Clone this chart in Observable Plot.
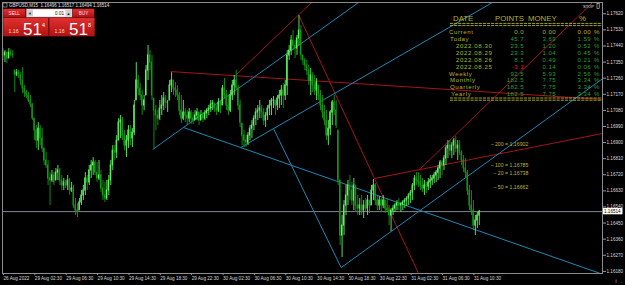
<!DOCTYPE html>
<html><head><meta charset="utf-8">
<script src="https://cdn.jsdelivr.net/npm/d3@7"></script>
<script src="https://cdn.jsdelivr.net/npm/@observablehq/plot@0.6"></script>
<style>
html,body{margin:0;padding:0;background:#000;}
#chart{position:relative;width:625px;height:285px;overflow:hidden;background:#000;}
svg text{font-family:"Liberation Sans",Arial,sans-serif;}
</style></head><body><div id="chart"></div>
<script>
// ---- GBPUSD M15 bars (26 Aug 2022 22:30 -> 31 Aug 2022) ----
const firstOpen = 1.17414;
const highs = [
1.17426,1.17414,1.17403,1.17426,1.17420,1.17414,1.17303,1.17308,1.17303,1.17291,
1.17319,1.17219,1.17191,1.17180,1.17163,1.17118,1.17034,1.16995,1.17012,1.16995,
1.16978,1.16867,1.16844,1.16800,1.16732,1.16744,1.16732,1.16755,1.16772,1.16755,
1.16716,1.16699,1.16688,1.16716,1.16699,1.16677,1.16660,1.16587,1.16559,1.16587,
1.16632,1.16660,1.16732,1.16716,1.16772,1.16800,1.16816,1.16800,1.16788,1.16800,
1.16744,1.16688,1.16677,1.16688,1.16716,1.16800,1.16883,1.16883,1.16939,1.17034,
1.17051,1.17040,1.16967,1.16939,1.16995,1.16995,1.16978,1.17135,1.17347,1.17275,
1.17230,1.17191,1.17163,1.17331,1.17442,1.17414,1.17387,1.17146,1.17107,1.17079,
1.17135,1.17163,1.17180,1.17163,1.17135,1.17247,1.17291,1.17247,1.17236,1.17219,
1.17180,1.17163,1.17135,1.17090,1.17079,1.17090,1.17079,1.17068,1.17079,1.17090,
1.17068,1.17079,1.17068,1.17079,1.17090,1.17107,1.17135,1.17135,1.17118,1.17107,
1.17146,1.17135,1.17219,1.17258,1.17191,1.17163,1.17191,1.17247,1.17275,1.17303,
1.17219,1.17135,1.17006,1.16967,1.16939,1.16956,1.16995,1.17023,1.17051,1.17090,
1.17107,1.17135,1.17107,1.17090,1.17068,1.17107,1.17135,1.17146,1.17157,1.17135,
1.17163,1.17191,1.17219,1.17230,1.17247,1.17414,1.17442,1.17498,1.17526,1.17470,
1.17498,1.17610,1.17554,1.17387,1.17370,1.17359,1.17331,1.17314,1.17291,1.17275,
1.17258,1.17219,1.17191,1.17163,1.17107,1.17079,1.17023,1.17079,1.17135,1.17163,
1.17135,1.16967,1.16688,1.16492,1.16576,1.16660,1.16688,1.16716,1.16677,1.16699,
1.16660,1.16604,1.16587,1.16604,1.16576,1.16587,1.16604,1.16576,1.16660,1.16693,
1.16671,1.16604,1.16598,1.16587,1.16604,1.16576,1.16587,1.16548,1.16531,1.16548,
1.16559,1.16576,1.16587,1.16565,1.16576,1.16587,1.16598,1.16615,1.16632,1.16671,
1.16716,1.16732,1.16732,1.16716,1.16699,1.16688,1.16677,1.16699,1.16716,1.16716,
1.16732,1.16744,1.16772,1.16800,1.16800,1.16828,1.16883,1.16911,1.16911,1.16900,
1.16923,1.16934,1.16911,1.16911,1.16855,1.16828,1.16811,1.16744,1.16660,1.16632,
1.16576,1.16492,1.16509,1.16520];
const lows = [
1.17359,1.17347,1.17342,1.17370,1.17381,1.17370,1.17180,1.17269,1.17258,1.17219,
1.17174,1.17152,1.17146,1.17124,1.17096,1.17023,1.16911,1.16867,1.16855,1.16883,
1.16844,1.16772,1.16755,1.16660,1.16548,1.16677,1.16660,1.16688,1.16688,1.16660,
1.16632,1.16632,1.16643,1.16632,1.16604,1.16621,1.16531,1.16492,1.16481,1.16520,
1.16548,1.16576,1.16604,1.16632,1.16660,1.16699,1.16716,1.16716,1.16677,1.16688,
1.16621,1.16576,1.16565,1.16576,1.16604,1.16660,1.16744,1.16800,1.16811,1.16911,
1.16923,1.16911,1.16855,1.16816,1.16867,1.16883,1.16872,1.16939,1.17135,1.17163,
1.17135,1.17051,1.17079,1.17163,1.17247,1.17303,1.17135,1.16867,1.16967,1.16995,
1.17023,1.17051,1.17079,1.17090,1.17068,1.17135,1.17180,1.17163,1.17152,1.17135,
1.17051,1.17006,1.17023,1.17012,1.16995,1.17012,1.17001,1.17001,1.17023,1.17023,
1.16995,1.17023,1.17012,1.17023,1.17034,1.17051,1.17068,1.17079,1.17068,1.17051,
1.17068,1.17062,1.17107,1.17146,1.17079,1.17051,1.17068,1.17135,1.17163,1.17191,
1.17079,1.16984,1.16883,1.16872,1.16872,1.16883,1.16911,1.16923,1.16967,1.16995,
1.17023,1.17034,1.17034,1.16995,1.16984,1.17023,1.17051,1.17051,1.17090,1.17051,
1.17079,1.17090,1.17107,1.17090,1.17135,1.17163,1.17359,1.17387,1.17414,1.17370,
1.17387,1.17442,1.17359,1.17331,1.17303,1.17275,1.17219,1.17163,1.17180,1.17163,
1.17135,1.17135,1.17079,1.17034,1.16995,1.16911,1.16883,1.16939,1.16995,1.17051,
1.16978,1.16660,1.16324,1.16257,1.16380,1.16492,1.16548,1.16576,1.16548,1.16520,
1.16509,1.16492,1.16492,1.16492,1.16475,1.16509,1.16492,1.16503,1.16548,1.16576,
1.16548,1.16520,1.16520,1.16509,1.16531,1.16503,1.16509,1.16436,1.16403,1.16492,
1.16509,1.16520,1.16520,1.16509,1.16520,1.16531,1.16542,1.16548,1.16559,1.16576,
1.16632,1.16660,1.16649,1.16632,1.16621,1.16604,1.16615,1.16632,1.16643,1.16660,
1.16671,1.16677,1.16688,1.16699,1.16716,1.16744,1.16772,1.16811,1.16828,1.16811,
1.16828,1.16844,1.16800,1.16828,1.16772,1.16732,1.16699,1.16604,1.16520,1.16492,
1.16408,1.16380,1.16419,1.16436];
const closes = [
1.17387,1.17403,1.17370,1.17403,1.17392,1.17387,1.17280,1.17291,1.17275,1.17247,
1.17202,1.17180,1.17163,1.17135,1.17113,1.17034,1.16967,1.16911,1.16978,1.16923,
1.16867,1.16800,1.16772,1.16699,1.16688,1.16716,1.16677,1.16732,1.16744,1.16688,
1.16660,1.16677,1.16660,1.16688,1.16632,1.16643,1.16548,1.16520,1.16509,1.16565,
1.16604,1.16632,1.16699,1.16677,1.16744,1.16772,1.16788,1.16732,1.16699,1.16716,
1.16643,1.16604,1.16587,1.16632,1.16688,1.16772,1.16855,1.16844,1.16911,1.17012,
1.17023,1.16939,1.16883,1.16911,1.16967,1.16923,1.16956,1.17107,1.17247,1.17202,
1.17163,1.17107,1.17135,1.17303,1.17387,1.17347,1.17163,1.17079,1.17051,1.17034,
1.17090,1.17107,1.17146,1.17124,1.17124,1.17219,1.17247,1.17202,1.17191,1.17163,
1.17079,1.17034,1.17068,1.17051,1.17034,1.17068,1.17034,1.17023,1.17051,1.17068,
1.17023,1.17051,1.17034,1.17062,1.17079,1.17090,1.17113,1.17118,1.17090,1.17079,
1.17124,1.17107,1.17202,1.17163,1.17107,1.17079,1.17163,1.17219,1.17247,1.17202,
1.17107,1.17012,1.16939,1.16911,1.16900,1.16939,1.16978,1.16995,1.17034,1.17068,
1.17079,1.17090,1.17068,1.17023,1.17051,1.17090,1.17107,1.17135,1.17135,1.17107,
1.17146,1.17163,1.17191,1.17163,1.17219,1.17387,1.17414,1.17470,1.17442,1.17426,
1.17482,1.17526,1.17387,1.17359,1.17331,1.17303,1.17247,1.17275,1.17219,1.17191,
1.17236,1.17163,1.17107,1.17068,1.17023,1.16939,1.16978,1.17068,1.17124,1.17079,
1.16995,1.16688,1.16380,1.16436,1.16548,1.16604,1.16660,1.16632,1.16576,1.16660,
1.16548,1.16531,1.16548,1.16520,1.16548,1.16531,1.16576,1.16548,1.16632,1.16660,
1.16576,1.16548,1.16576,1.16548,1.16576,1.16531,1.16520,1.16492,1.16520,1.16531,
1.16548,1.16559,1.16548,1.16554,1.16565,1.16576,1.16587,1.16604,1.16621,1.16660,
1.16699,1.16688,1.16677,1.16660,1.16643,1.16660,1.16654,1.16677,1.16688,1.16699,
1.16716,1.16732,1.16755,1.16788,1.16772,1.16811,1.16867,1.16883,1.16855,1.16883,
1.16911,1.16867,1.16883,1.16844,1.16800,1.16755,1.16732,1.16632,1.16548,1.16520,
1.16436,1.16464,1.16492,1.16514];

// time axis labels (one every 16 bars of 15 minutes)
const timeLabels = ["26 Aug 2022","29 Aug 02:30","29 Aug 06:30","29 Aug 10:30","29 Aug 14:30","29 Aug 18:30",
  "29 Aug 22:30","30 Aug 02:30","30 Aug 06:30","30 Aug 10:30","30 Aug 14:30","30 Aug 18:30",
  "30 Aug 22:30","31 Aug 02:30","31 Aug 06:30","31 Aug 10:30"];
const barsPerLabel = 16;
// price axis ticks
const priceTicks = [1.16180,1.16270,1.16360,1.16450,1.16540,1.16630,1.16720,1.16810,1.16900,
  1.16990,1.17080,1.17170,1.17260,1.17350,1.17440,1.17530,1.17620];

// trend lines [barIndex1, price1, barIndex2, price2]
const redLines = [
  [85.5,1.17297,306,1.17141],
  [118.6,1.17275,157.4,1.17683],
  [151,1.17610,212,1.16168],
  [189.5,1.16699,306,1.16951],
  [212,1.16744,300.8,1.17683]];
const blueLines = [
  [76.3,1.16861,181.4,1.17683],
  [92.1,1.16984,304.8,1.16168],
  [121.2,1.16872,249.7,1.17683],
  [138,1.16978,172.5,1.16201],
  [172.5,1.16201,306,1.17258]];

// moving-average labels
const maPeriods = [200,100,20,50];
const maValues = [1.16902,1.16785,1.16738,1.16662];

// statistics table
const tableHeader = ["DATE","POINTS","MONEY","%"];
const rowNames = ["Current","Today","2022.08.30","2022.08.29","2022.08.26","2022.08.25","Weekly","Monthly","Quarterly","Yearly"];
const rowPoints = [0.0,45.7,23.5,23.3,8.1,-3.1,92.5,182.5,182.5,182.5];
const rowMoney = [0.00,3.69,1.20,1.04,0.49,0.14,5.93,7.75,7.75,7.75];
const rowPct = [0.00,1.59,0.52,0.45,0.21,0.06,2.56,3.34,3.34,3.34];

const symbol = "GBPUSD,M15";
const ohlcNow = [1.16496,1.16517,1.16494,1.16514];
const bid = 1.16514, ask = 1.16518, lot = "0.01";

// ---- build ----
const bars = closes.map((c,i)=>{
  const prev = i===0 ? firstOpen : closes[i-1];
  const o = Math.min(highs[i], Math.max(lows[i], prev));
  return {i, open:o, high:highs[i], low:lows[i], close:c, up: c>=o};
});
const last = bars.length-1;
const tickIdx = timeLabels.map((_,k)=>k*barsPerLabel);
const labelOf = new Map(tickIdx.map((t,k)=>[t,timeLabels[k]]));

const BULL = "#62f262", BEAR = "#139a13";
const plot = Plot.plot({
  width:625, height:285,
  marginLeft:2, marginRight:23, marginTop:2, marginBottom:12,
  style:{background:"#000", color:"#d0d0d0", fontSize:"4.6px", fontFamily:"Liberation Sans, Arial, sans-serif", overflow:"visible"},
  x:{type:"linear", domain:[-0.26,305.86]},
  y:{domain:[1.16168,1.17683]},
  marks:[
    Plot.ruleY([bid], {stroke:"#7c8691", strokeWidth:1}),
    Plot.link(redLines, {x1:d=>d[0], y1:d=>d[1], x2:d=>d[2], y2:d=>d[3], stroke:"#a3161a", strokeWidth:1, clip:true}),
    Plot.link(blueLines, {x1:d=>d[0], y1:d=>d[1], x2:d=>d[2], y2:d=>d[3], stroke:"#1e88b6", strokeWidth:1, clip:true}),
    Plot.ruleX(bars, {x:"i", y1:"low", y2:"high", stroke:d=>d.up?BULL:BEAR, strokeWidth:0.9}),
    Plot.rect(bars, {x1:d=>d.i-0.32, x2:d=>d.i+0.32, y1:d=>Math.min(d.open,d.close), y2:d=>Math.max(d.open,d.close),
      fill:d=>d.up?BULL:BEAR, insetTop:-0.5, insetBottom:-0.5}),
    Plot.text(maPeriods, {x:()=>last+25, y:(d,k)=>maValues[k], text:(d,k)=>`\u2013 ${d} = ${maValues[k].toFixed(5)}`,
      textAnchor:"end", lineAnchor:"top", fill:"#c4b23c", fontSize:5.2}),
    Plot.frame({stroke:"#8c8c8c"}),
    Plot.axisY(priceTicks, {anchor:"right", tickSize:3, tickPadding:1, tickFormat:d=>d.toFixed(5), stroke:"#9a9a9a", fill:"#d8d8d8", textAnchor:"start", fontSize:4.6}),
    Plot.axisX(tickIdx, {anchor:"bottom", tickSize:2, tickPadding:1.5, tickFormat:d=>labelOf.get(d), stroke:"#9a9a9a", fill:"#d8d8d8", textAnchor:"start", dx:0.5, fontSize:4.6})
  ]
});
document.getElementById("chart").appendChild(plot);

const svg = d3.select(plot);
const ys = plot.scale("y");
const F = "Liberation Sans, Arial, sans-serif";
const root = svg.append("g").attr("text-anchor","start").attr("font-family",F);

// current price label
const yb = ys.apply(bid);
root.append("rect").attr("x",603).attr("y",yb-3.2).attr("width",19.5).attr("height",6.4).attr("fill","#fff");
root.append("text").attr("x",604).attr("y",yb).attr("dy","0.35em").attr("font-size",4.6).attr("fill","#000").text(bid.toFixed(5));

// title
root.append("rect").attr("x",3).attr("y",3).attr("width",4).attr("height",4).attr("fill","none").attr("stroke","#bbb").attr("stroke-width",0.6);
root.append("text").attr("x",9).attr("y",5.5).attr("dy","0.35em").attr("font-size",4.5).attr("fill","#e0e0e0")
  .text(symbol+"\u00a0\u00a0"+ohlcNow.map(v=>v.toFixed(5)).join(" "));

// one-click panel
const g = root.append("g");
const defs = svg.append("defs");
const grad = defs.append("linearGradient").attr("id","rg").attr("x1",0).attr("x2",0).attr("y1",0).attr("y2",1);
grad.append("stop").attr("offset","0%").attr("stop-color","#e03030");
grad.append("stop").attr("offset","100%").attr("stop-color","#b21212");
g.append("rect").attr("x",3).attr("y",8.5).attr("width",91.5).attr("height",28).attr("fill","#7a0d0d");
g.append("rect").attr("x",3.5).attr("y",9).attr("width",21.5).attr("height",8).attr("fill","url(#rg)");
g.append("rect").attr("x",73).attr("y",9).attr("width",21).attr("height",8).attr("fill","url(#rg)");
g.append("rect").attr("x",26.5).attr("y",9).attr("width",45.5).attr("height",8).attr("fill","#fff").attr("stroke","#999").attr("stroke-width",0.5);
g.append("rect").attr("x",27).attr("y",9.5).attr("width",6).attr("height",7).attr("fill","#cfcfcf");
g.append("rect").attr("x",65.5).attr("y",9.5).attr("width",6).attr("height",7).attr("fill","#cfcfcf");
g.append("text").attr("x",30).attr("y",13.2).attr("dy","0.35em").attr("text-anchor","middle").attr("font-size",4).attr("fill","#222").text("\u25BC");
g.append("text").attr("x",68.5).attr("y",13.2).attr("dy","0.35em").attr("text-anchor","middle").attr("font-size",4).attr("fill","#222").text("\u25B2");
g.append("text").attr("x",64).attr("y",13.2).attr("dy","0.35em").attr("text-anchor","end").attr("font-size",4.6).attr("fill","#111").text(lot);
g.append("text").attr("x",14.2).attr("y",13.2).attr("dy","0.35em").attr("text-anchor","middle").attr("font-size",4.6).attr("fill","#fde").text("SELL");
g.append("text").attr("x",83.5).attr("y",13.2).attr("dy","0.35em").attr("text-anchor","middle").attr("font-size",4.6).attr("fill","#fde").text("BUY");
function priceBox(x0, w, price){
  const s = price.toFixed(5);
  g.append("rect").attr("x",x0).attr("y",18).attr("width",w).attr("height",18).attr("fill","url(#rg)");
  g.append("text").attr("x",x0+5).attr("y",33).attr("font-size",5.2).attr("fill","#f6dede").text(s.slice(0,4));
  g.append("text").attr("x",x0+19.5).attr("y",35).attr("font-size",17).attr("fill","#fff").text(s.slice(4,6));
  g.append("text").attr("x",x0+38.5).attr("y",27).attr("font-size",5.5).attr("fill","#fff").text(s.slice(6));
}
priceBox(3.5,44.5,bid);
priceBox(49.5,45,ask);

// stop label
root.append("text").attr("x",583).attr("y",6.5).attr("dy","0.35em").attr("font-size",4).attr("fill","#e8e8e8").text("STOP");
root.append("rect").attr("x",597).attr("y",3.5).attr("width",2.2).attr("height",5).attr("fill","none").attr("stroke","#ddd").attr("stroke-width",0.6);

// statistics table
const OL = "#b4b42c", GR = "#2e9e2e", RD = "#ee1c1c";
const t = root.append("g").attr("font-size",6.1);
const hx = [453,495,528,579];
tableHeader.forEach((h,k)=>t.append("text").attr("x",hx[k]).attr("y",17.8).attr("dy","0.35em").attr("font-size",7.8).attr("fill",OL).text(h));
function dbl(y){
  [y, y+2.2].forEach(yy=>t.append("line").attr("x1",450).attr("x2",602).attr("y1",yy).attr("y2",yy)
    .attr("stroke",OL).attr("stroke-width",0.9).attr("stroke-dasharray","3.2,0.9"));
}
dbl(23.4); dbl(98);
const indent = [449,450,456,456,456,456,449,450,450,451];
rowNames.forEach((n,k)=>{
  const y = 32 + k*6.9;
  const vc = k===0 ? OL : GR;
  t.append("text").attr("x",indent[k]).attr("y",y).attr("dy","0.35em").attr("letter-spacing",0.6).attr("fill",OL).text(n);
  t.append("text").attr("x",524).attr("y",y).attr("dy","0.35em").attr("text-anchor","end").attr("letter-spacing",0.4).attr("fill",rowPoints[k]<0?RD:vc).text(rowPoints[k].toFixed(1));
  t.append("text").attr("x",556).attr("y",y).attr("dy","0.35em").attr("text-anchor","end").attr("letter-spacing",0.4).attr("fill",vc).text(rowMoney[k].toFixed(2));
  t.append("text").attr("x",591).attr("y",y).attr("dy","0.35em").attr("text-anchor","end").attr("letter-spacing",0.4).attr("fill",vc).text(rowPct[k].toFixed(2));
  t.append("text").attr("x",594).attr("y",y).attr("dy","0.35em").attr("fill",vc).text("%");
});
</script></body></html>
